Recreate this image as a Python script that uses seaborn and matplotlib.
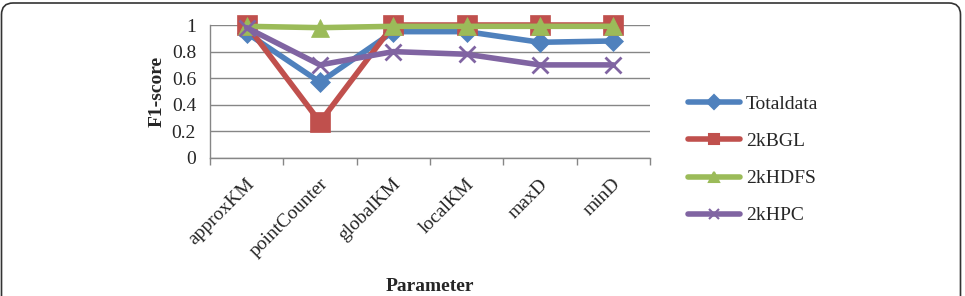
import pandas as pd
import numpy as np
import matplotlib
matplotlib.use("Agg")
import matplotlib.pyplot as plt
from matplotlib.patches import FancyBboxPatch
from matplotlib.lines import Line2D
import matplotlib.transforms as mtransforms
import seaborn as sns

# data
parameters = ["approxKM", "pointCounter", "globalKM", "localKM", "maxD", "minD"]
totaldata = [0.94, 0.57, 0.95, 0.95, 0.87, 0.88]
bgl = [1.00, 0.27, 1.00, 1.00, 1.00, 1.00]
hdfs = [0.99, 0.98, 0.99, 0.99, 0.99, 0.99]
hpc = [0.98, 0.70, 0.80, 0.78, 0.70, 0.70]

series_names = ["Totaldata", "2kBGL", "2kHDFS", "2kHPC"]
colors = ["#4F81BD", "#C0504D", "#9BBB59", "#8064A2"]
markers = ["D", "s", "^", "x"]
marker_sizes = [10, 14, 13, 12]

df = pd.DataFrame({
    "Parameter": parameters * 4,
    "F1": totaldata + bgl + hdfs + hpc,
    "series": np.repeat(series_names, len(parameters)),
})

sns.set_style("white")
plt.rcParams["font.family"] = ["Liberation Serif", "DejaVu Serif"]

fig = plt.figure(figsize=(9.65, 2.96), dpi=100)
ax = fig.add_axes([210 / 965, 1 - 158 / 296, 440 / 965, 133 / 296])

for name, col, mk, ms in zip(series_names, colors, markers, marker_sizes):
    sub = df[df["series"] == name]
    sns.lineplot(data=sub, x="Parameter", y="F1", ax=ax, color=col,
                 linewidth=4, marker=mk, markersize=ms, markeredgecolor=col,
                 markeredgewidth=2 if mk == "x" else 0.5, sort=False,
                 legend=False, zorder=3, clip_on=False)

ax.set_xlim(-0.5, len(parameters) - 0.5)
ax.set_ylim(0, 1)
ax.set_yticks(np.arange(0, 1.01, 0.2))
ax.set_yticklabels(["0", "0.2", "0.4", "0.6", "0.8", "1"], fontsize=14)
ax.yaxis.grid(True, color="#868686", linewidth=1)
ax.tick_params(axis="y", length=0, pad=10)

ax.set_xticks(range(len(parameters)))
ax.set_xticklabels(parameters, fontsize=14, rotation=45, ha="right",
                   va="center", rotation_mode="anchor")
ax.tick_params(axis="x", which="major", length=0, pad=17)
shift = mtransforms.ScaledTranslation(5 / 100, 0, fig.dpi_scale_trans)
for lbl in ax.get_xticklabels():
    lbl.set_transform(lbl.get_transform() + shift)
ax.set_xticks(np.arange(-0.5, len(parameters), 1.0), minor=True)
ax.tick_params(axis="x", which="minor", length=5, color="#868686", width=1,
               direction="out", bottom=True)

for side in ["top", "right"]:
    ax.spines[side].set_visible(False)
for side in ["left", "bottom"]:
    ax.spines[side].set_color("#868686")
    ax.spines[side].set_linewidth(1)

ax.set_xlabel("Parameter", fontsize=14, fontweight="bold")
ax.xaxis.set_label_coords(0.5, -0.9)
ax.set_ylabel("F1-score", fontsize=14, fontweight="bold")
ax.yaxis.set_label_coords(-0.1, 0.5)

handles = [Line2D([0], [0], color=c, linewidth=4, marker=m,
                  markersize=7, markeredgecolor=c, markeredgewidth=1.5)
           for c, m in zip(colors, markers)]
fig.legend(handles, series_names, loc="center left",
           bbox_to_anchor=(670 / 965, 1 - 160 / 296), frameon=False,
           fontsize=14, handlelength=2.7, handletextpad=0.3,
           labelspacing=1.0)

frame = FancyBboxPatch((1.5 / 965, -0.2), 959 / 965, 1.2 - 3 / 296,
                       boxstyle="round,pad=0,rounding_size=0.012",
                       transform=fig.transFigure, facecolor="none",
                       edgecolor="#333333", linewidth=1.2, mutation_aspect=3.26)
fig.patches.append(frame)

fig.savefig("out.png", dpi=100)
